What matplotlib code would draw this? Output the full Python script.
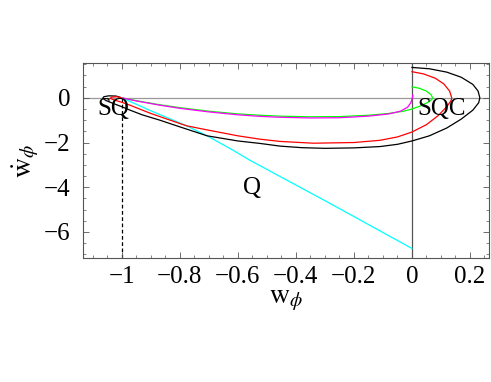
import matplotlib
matplotlib.use("Agg")
import matplotlib.pyplot as plt
from matplotlib.ticker import MultipleLocator
import numpy as np

# ---- data ----
black_w = [-1.0, -1.02, -1.045, -1.062, -1.066, -1.055, -1.03, -1.0, -0.972, -0.93, -0.869, -0.8, -0.706, -0.6, -0.524, -0.455, -0.38, -0.3, -0.2, -0.11, -0.05, 0.0, 0.06, 0.12, 0.17, 0.21, 0.23, 0.234, 0.228, 0.21, 0.17, 0.12, 0.06, 0.0]
black_y = [0.0, 0.08, 0.09, 0.05, -0.02, -0.12, -0.25, -0.4, -0.55, -0.76, -1.0, -1.3, -1.7, -1.93, -2.04, -2.16, -2.23, -2.26, -2.24, -2.18, -2.08, -1.93, -1.7, -1.35, -0.95, -0.55, -0.22, 0.0, 0.3, 0.6, 0.92, 1.15, 1.3, 1.36]

red_w = [-1.0, -1.018, -1.035, -1.04, -1.03, -1.0, -0.972, -0.9, -0.8, -0.777, -0.72, -0.6, -0.524, -0.455, -0.34, -0.2, -0.11, -0.05, 0.0, 0.05, 0.09, 0.12, 0.135, 0.137, 0.13, 0.11, 0.08, 0.04, 0.0]
red_y = [0.0, 0.05, 0.03, -0.02, -0.08, -0.2, -0.33, -0.7, -1.15, -1.25, -1.4, -1.7, -1.85, -1.95, -2.03, -2.0, -1.9, -1.75, -1.53, -1.2, -0.8, -0.4, -0.12, 0.0, 0.3, 0.62, 0.88, 1.07, 1.17]

green_w = [-1.0, -0.95, -0.869, -0.8, -0.7, -0.6, -0.524, -0.455, -0.35, -0.25, -0.15, -0.08, -0.03, 0.0, 0.03, 0.055, 0.068, 0.071, 0.066, 0.05, 0.025, 0.0]
green_y = [0.0, -0.13, -0.31, -0.44, -0.6, -0.72, -0.78, -0.82, -0.85, -0.84, -0.78, -0.7, -0.6, -0.5, -0.36, -0.2, -0.08, 0.0, 0.14, 0.3, 0.43, 0.49]

magenta_w = [-1.0, -0.95, -0.869, -0.8, -0.7, -0.6, -0.524, -0.455, -0.35, -0.25, -0.15, -0.08, -0.04, -0.015, -0.004, 0.001, 0.003]
magenta_y = [0.0, -0.14, -0.33, -0.47, -0.63, -0.76, -0.83, -0.87, -0.9, -0.89, -0.82, -0.72, -0.6, -0.42, -0.22, -0.02, 0.12]

cyan_w = [-1.0, -0.9, -0.777, -0.706, -0.616, -0.559, -0.283, 0.0]
cyan_y = [0.0, -0.58, -1.25, -1.7, -2.35, -2.79, -4.72, -6.74]

labels = [("SQ", -1.028, -0.51), ("SQC", 0.103, -0.51), ("Q", -0.552, -4.05)]

xtick_vals = [-1, -0.8, -0.6, -0.4, -0.2, 0, 0.2]
xtick_text = ['\u22121', '\u22120.8', '\u22120.6', '\u22120.4', '\u22120.2', '0', '0.2']
ytick_vals = [0, -2, -4, -6]
ytick_text = ['0', '\u22122', '\u22124', '\u22126']

xlim = (-1.134, 0.264)
ylim = (-7.16, 1.54)

# ---- figure ----
plt.rcParams['font.family'] = ['Liberation Serif', 'DejaVu Serif']
plt.rcParams['mathtext.fontset'] = 'stix'

fig = plt.figure(figsize=(4.91, 3.82), dpi=100)
ax = fig.add_axes([0.169, 0.325, 0.826, 0.509])

ax.axhline(0, color='#999999', lw=0.9, zorder=1)
ax.axvline(0, color='#555555', lw=0.9, zorder=1)
ax.plot([-1, -1], [0, ylim[0]], color='black', lw=0.9, ls=(0, (3, 2)), zorder=1)

ax.plot(cyan_w, cyan_y, color='cyan', lw=0.9, zorder=2)
ax.plot(black_w, black_y, color='black', lw=0.9, zorder=3)
ax.plot(red_w, red_y, color='red', lw=0.9, zorder=3)
ax.plot(green_w, green_y, color='#00ff00', lw=0.9, zorder=3)
ax.plot(magenta_w, magenta_y, color='magenta', lw=0.9, zorder=4)

for t, x, y in labels:
    ax.text(x, y, t, fontsize=18, ha='center', va='center', zorder=5)

ax.set_xlim(*xlim)
ax.set_ylim(*ylim)
ax.xaxis.set_minor_locator(MultipleLocator(0.05))
ax.yaxis.set_minor_locator(MultipleLocator(0.5))
ax.set_xticks(xtick_vals)
ax.set_xticklabels(xtick_text)
ax.set_yticks(ytick_vals)
ax.set_yticklabels(ytick_text)
ax.tick_params(which='both', direction='in', top=True, right=True, color='#555555')
ax.tick_params(which='major', length=4, width=0.6, labelsize=18)
ax.tick_params(axis='x', which='major', pad=6)
ax.tick_params(axis='y', which='major', pad=9)
ax.tick_params(which='minor', length=2, width=0.5)
for s in ax.spines.values():
    s.set_color('#555555')
    s.set_linewidth(0.8)

ax.set_xlabel(r'$\mathrm{w}_{\phi}$', fontsize=20, labelpad=0)
ax.set_ylabel(r'$\dot{\mathrm{w}}_{\phi}$', fontsize=20, labelpad=2)

fig.savefig('out.png', dpi=100)
